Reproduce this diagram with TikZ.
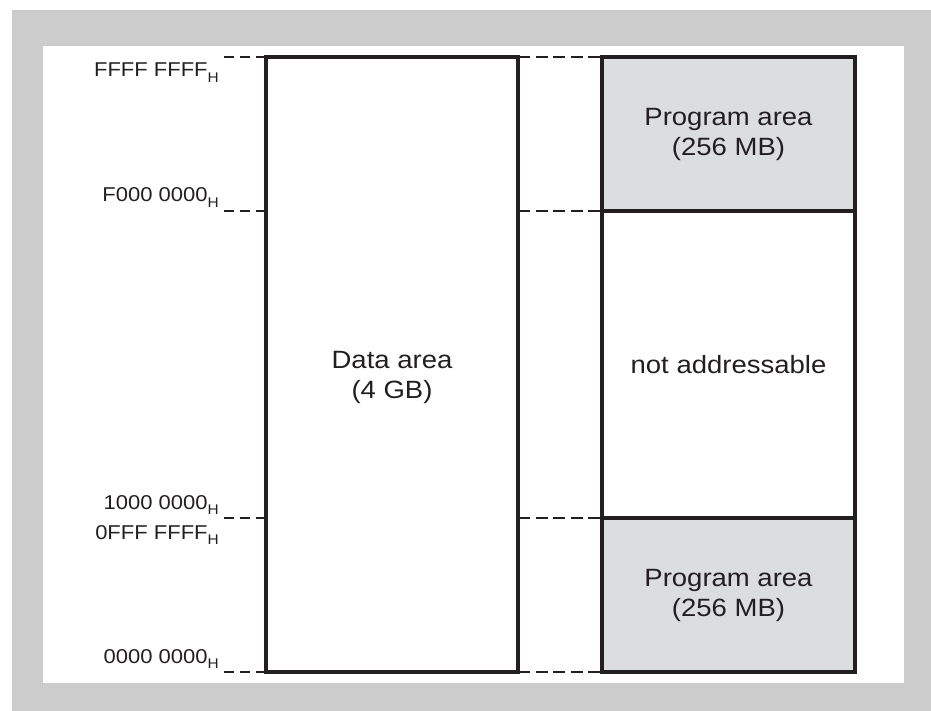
\documentclass[tikz,border=0pt]{standalone}
\usepackage{fontspec}
\setmainfont{Liberation Sans}[FakeStretch=1.1]
\definecolor{framegray}{HTML}{CCCCCC}
\definecolor{areagray}{HTML}{DCDDDF}
\definecolor{ink}{HTML}{231F20}
\newcommand\subH{\raisebox{-5.5pt}{\fontsize{14}{14}\selectfont H}}
\tikzset{
  membox/.style={draw=ink, line width=4.5pt, inner sep=0pt, outer sep=0pt, align=center,
    font=\fontsize{25}{30}\selectfont, text=ink},
  progbox/.style={membox, fill=areagray},
  guide/.style={draw=ink, line width=2pt, dash pattern=on 10pt off 6pt},
  midguide/.style={draw=ink, line width=2pt, dash pattern=on 12pt off 5.5pt},
  addr/.style={inner sep=0pt, anchor=base east, font=\fontsize{20}{24}\selectfont, text=ink},
  areatext/.style={inner sep=0pt, align=center, font=\fontsize{25}{30}\selectfont, text=ink}
}
\begin{document}
\begin{tikzpicture}[x=1pt,y=-1pt]
\useasboundingbox (0,0) rectangle (931,711);
\fill[white] (0,0) rectangle (931,711);
\fill[framegray] (12,10) rectangle (931,711);
\fill[white] (43,46) rectangle (904,683);

% memory boxes
\node[membox, minimum width=252pt, minimum height=615pt] (data) at (392,364.5) {};
\node[progbox, minimum width=253pt, minimum height=154pt] (progtop) at (728.5,134) {Program area\\(256 MB)};
\node[membox, minimum width=253pt, minimum height=307pt] (noaddr) at (728.5,364.5) {not addressable};
\node[progbox, minimum width=253pt, minimum height=154pt] (progbot) at (728.5,595) {Program area\\(256 MB)};
\node[areatext] (datatext) at (392,377) {Data area\\(4 GB)};

% address labels
\node[addr] (aFFFF) at (219,77) {FFFF FFFF\subH};
\node[addr] (aF000) at (219,202) {F000 0000\subH};
\node[addr] (a1000) at (219,509) {1000 0000\subH};
\node[addr] (a0FFF) at (219,539) {0FFF FFFF\subH};
\node[addr] (a0000) at (219,663) {0000 0000\subH};

% free ends of guide lines
\coordinate (g1) at (222,57);
\coordinate (g2) at (222,211);
\coordinate (g3) at (222,518);
\coordinate (g4) at (222,672);

% guides left of data area
\draw[guide] (data.north west) -- (g1);
\draw[guide] (data.west |- progtop.south) -- (g2);
\draw[guide] (data.west |- progbot.north) -- (g3);
\draw[guide] (data.south west) -- (g4);

% guides between the columns
\draw[midguide] (data.north east) -- (progtop.north west);
\draw[midguide] (data.east |- progtop.south) -- (progtop.south west);
\draw[midguide] (data.east |- progbot.north) -- (progbot.north west);
\draw[midguide] (data.south east) -- (progbot.south west);

% redraw borders on top
\draw[ink, line width=4.5pt] (data.north west) rectangle (data.south east);
\draw[ink, line width=4.5pt] (progtop.north west) rectangle (progbot.south east);
\draw[ink, line width=4.5pt] (progtop.south west) -- (progtop.south east);
\draw[ink, line width=4.5pt] (progbot.north west) -- (progbot.north east);
\end{tikzpicture}
\end{document}
